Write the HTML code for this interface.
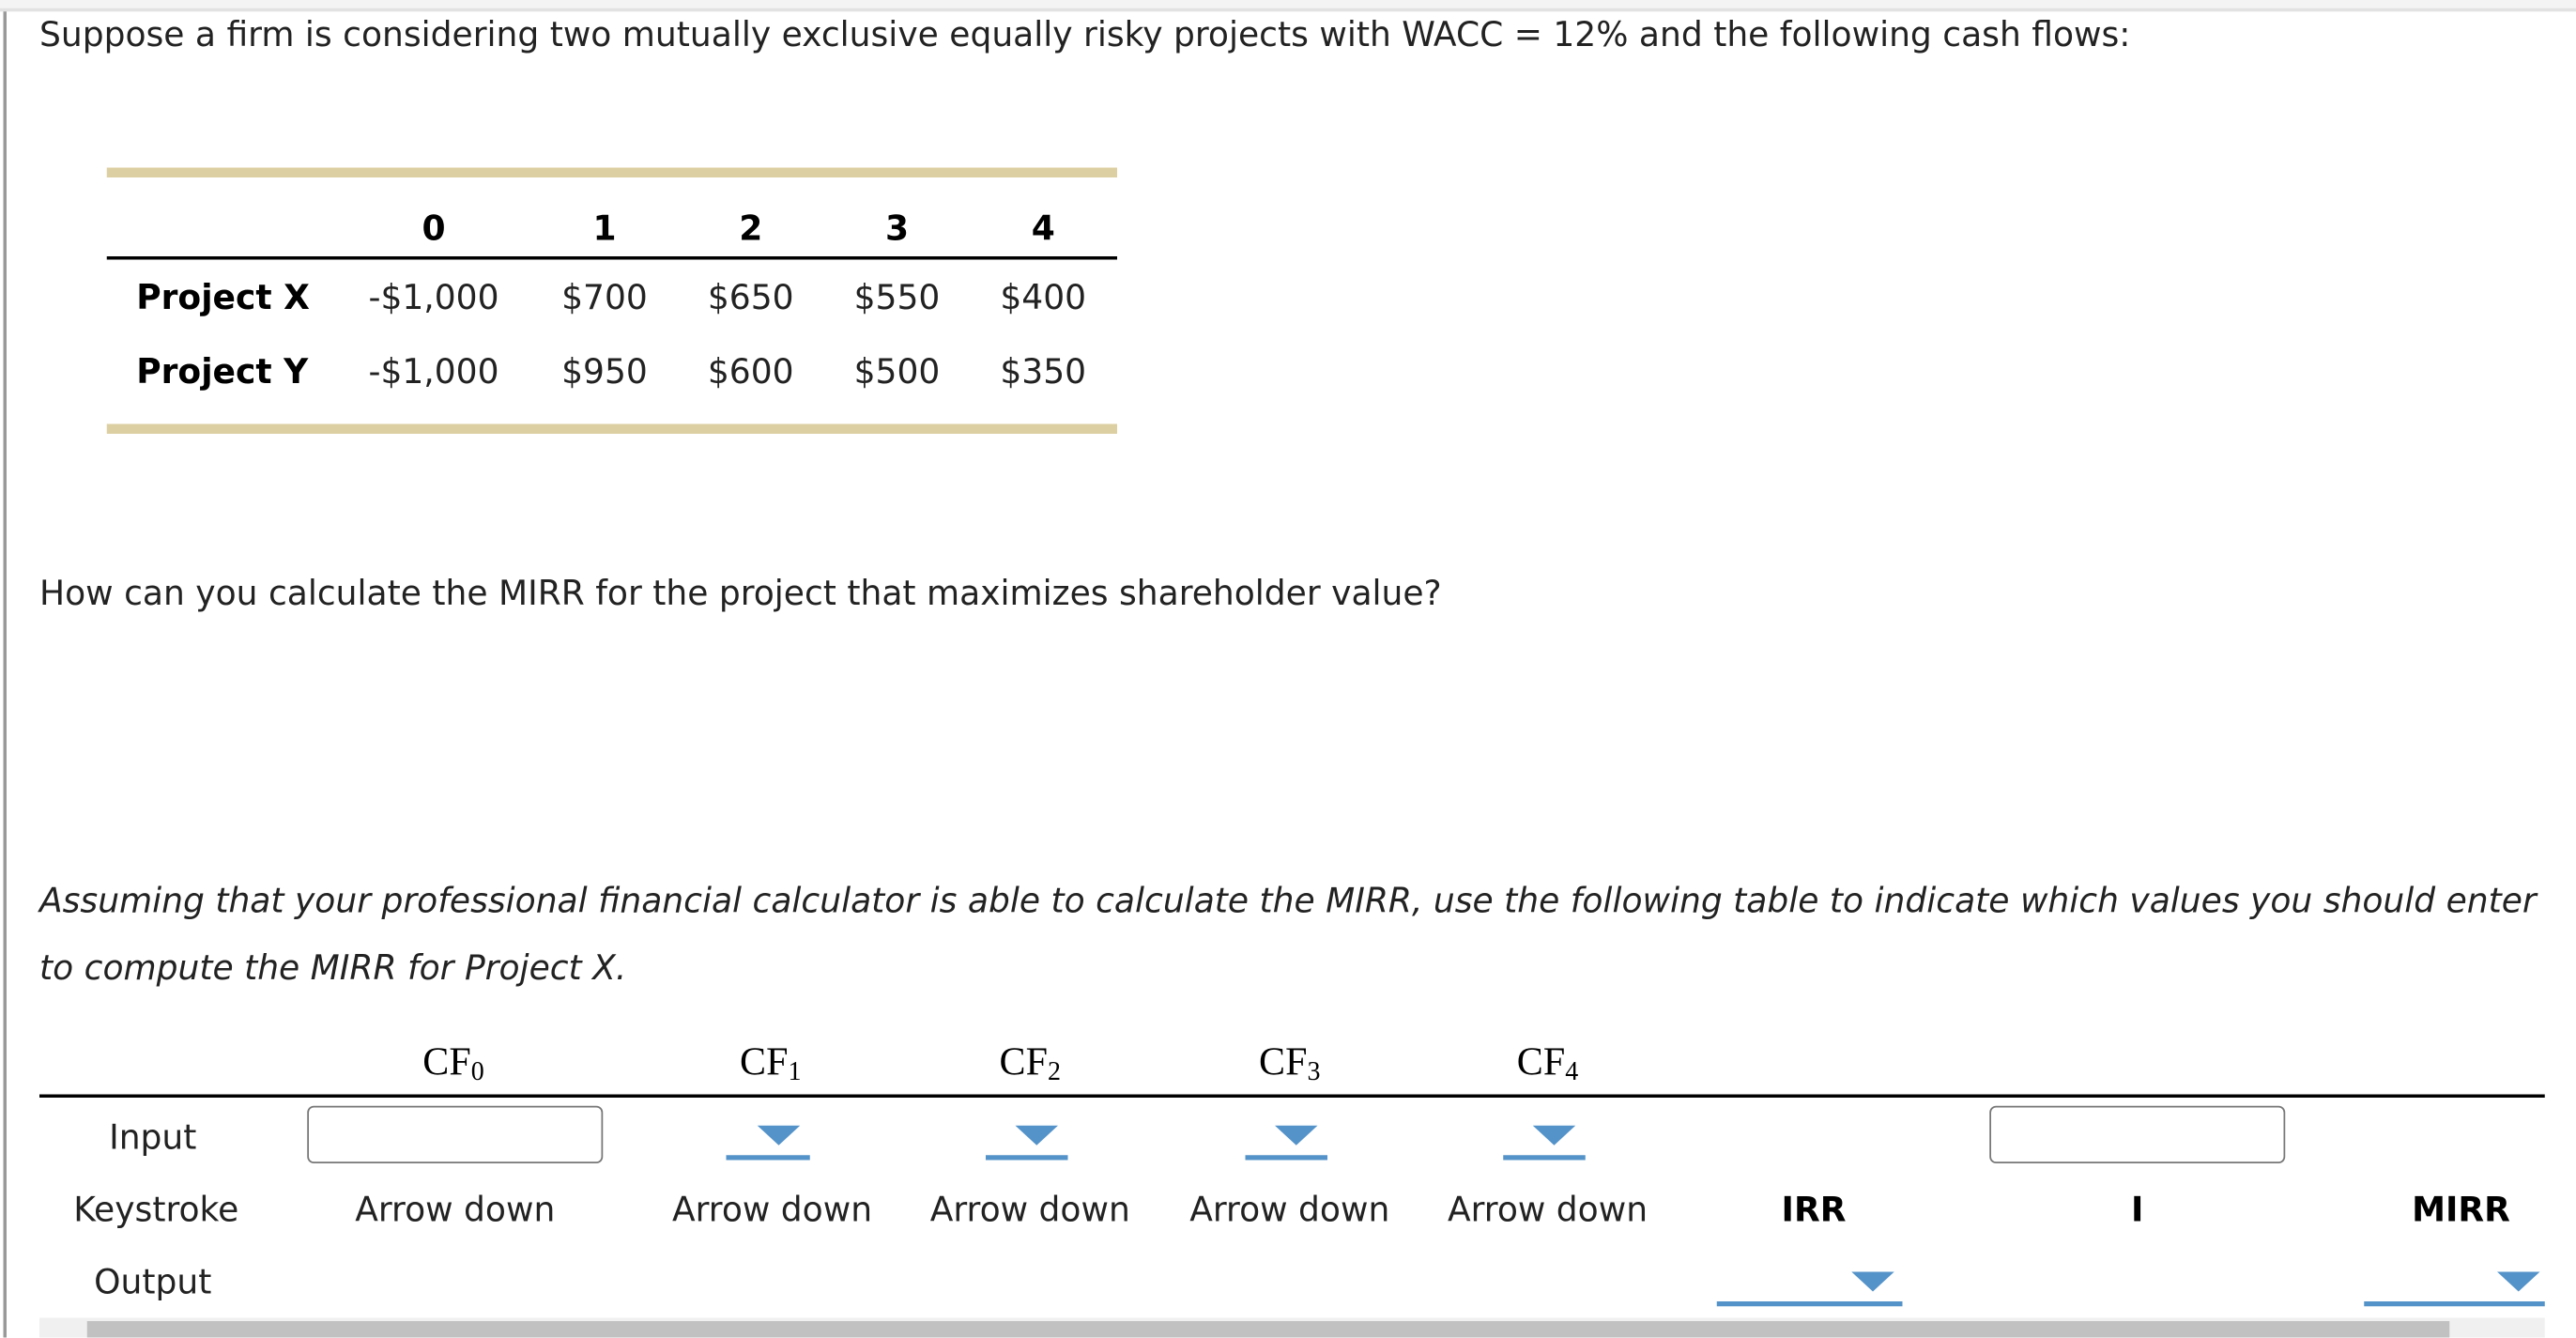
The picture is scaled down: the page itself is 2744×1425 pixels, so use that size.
<!DOCTYPE html>
<html><head><meta charset="utf-8">
<style>
html,body{margin:0;padding:0;background:#fff;overflow:hidden;}
body{width:2744px;height:1425px;position:relative;}
#s{position:absolute;left:0;top:0;width:1568px;height:814px;transform:scale(1.75);transform-origin:0 0;font-family:"DejaVu Sans","Liberation Sans",sans-serif;font-size:20.6px;color:#222;}
.a{position:absolute;white-space:nowrap;}
.c{transform:translate(-50%,-50%);}
.l{transform:translateY(-50%);}
.b{font-weight:bold;color:#000;}
.serif{font-family:"Liberation Serif",serif;font-size:24px;color:#000;}
.serif sub{font-size:16px;vertical-align:-3px;}
.tan{position:absolute;left:65px;width:615px;height:6px;background:#dccfa2;}
.box{position:absolute;width:178px;height:33px;border:1px solid #777;border-radius:4px;background:#fff;}
.tri{position:absolute;width:0;height:0;border-left:13px solid transparent;border-right:13px solid transparent;border-top:12px solid #5493c9;}
.ul{position:absolute;height:3px;background:#5493c9;}
</style></head><body>
<div id="s">
<div class="a" style="left:0;top:0;width:1568px;height:5px;background:#f4f4f4;border-bottom:2px solid #e2e2e2"></div>
<div class="a" style="left:2px;top:7px;width:2px;height:807px;background:#999"></div>
<div class="a l" style="left:24px;top:21px">Suppose a firm is considering two mutually exclusive equally risky projects with WACC = 12% and the following cash flows:</div>

<div>
<div class="tan" style="top:102px"></div>
<div class="tan" style="top:258px"></div>
<div class="a" style="left:65px;top:156px;width:615px;height:2px;background:#000"></div>
<div class="a c b" style="left:264px;top:139px">0</div>
<div class="a c b" style="left:368px;top:139px">1</div>
<div class="a c b" style="left:457px;top:139px">2</div>
<div class="a c b" style="left:546px;top:139px">3</div>
<div class="a c b" style="left:635px;top:139px">4</div>
<div class="a l b" style="left:83px;top:181px">Project X</div>
<div class="a c" style="left:264px;top:181px">-$1,000</div>
<div class="a c" style="left:368px;top:181px">$700</div>
<div class="a c" style="left:457px;top:181px">$650</div>
<div class="a c" style="left:546px;top:181px">$550</div>
<div class="a c" style="left:635px;top:181px">$400</div>
<div class="a l b" style="left:83px;top:226px">Project Y</div>
<div class="a c" style="left:264px;top:226px">-$1,000</div>
<div class="a c" style="left:368px;top:226px">$950</div>
<div class="a c" style="left:457px;top:226px">$600</div>
<div class="a c" style="left:546px;top:226px">$500</div>
<div class="a c" style="left:635px;top:226px">$350</div>
</div>

<div class="a l" style="left:24px;top:361px">How can you calculate the MIRR for the project that maximizes shareholder value?</div>
<div class="a l" style="left:24px;top:548px;font-style:italic">Assuming that your professional financial calculator is able to calculate the MIRR, use the following table to indicate which values you should enter</div>
<div class="a l" style="left:24px;top:589px;font-style:italic">to compute the MIRR for Project X.</div>

<div>
<div class="a c serif" style="left:276px;top:648px">CF<sub>0</sub></div>
<div class="a c serif" style="left:469px;top:648px">CF<sub>1</sub></div>
<div class="a c serif" style="left:627px;top:648px">CF<sub>2</sub></div>
<div class="a c serif" style="left:785px;top:648px">CF<sub>3</sub></div>
<div class="a c serif" style="left:942px;top:648px">CF<sub>4</sub></div>
<div class="a" style="left:24px;top:666px;width:1525px;height:2px;background:#000"></div>

<div class="a c" style="left:93px;top:692px">Input</div>
<div class="box" style="left:187px;top:673px"></div>
<div class="box" style="left:1211px;top:673px"></div>
<div><div class="tri" style="left:461px;top:685px"></div><div class="ul" style="left:442px;top:703px;width:51px"></div></div>
<div><div class="tri" style="left:618px;top:685px"></div><div class="ul" style="left:600px;top:703px;width:50px"></div></div>
<div><div class="tri" style="left:776px;top:685px"></div><div class="ul" style="left:758px;top:703px;width:50px"></div></div>
<div><div class="tri" style="left:933px;top:685px"></div><div class="ul" style="left:915px;top:703px;width:50px"></div></div>

<div class="a c" style="left:95px;top:736px">Keystroke</div>
<div class="a c" style="left:277px;top:736px">Arrow down</div>
<div class="a c" style="left:470px;top:736px">Arrow down</div>
<div class="a c" style="left:627px;top:736px">Arrow down</div>
<div class="a c" style="left:785px;top:736px">Arrow down</div>
<div class="a c" style="left:942px;top:736px">Arrow down</div>
<div class="a c b" style="left:1104px;top:736px">IRR</div>
<div class="a c b" style="left:1301px;top:736px">I</div>
<div class="a c b" style="left:1498px;top:736px">MIRR</div>

<div class="a c" style="left:93px;top:780px">Output</div>
<div><div class="tri" style="left:1127px;top:774px"></div><div class="ul" style="left:1045px;top:792px;width:113px"></div></div>
<div><div class="tri" style="left:1520px;top:774px"></div><div class="ul" style="left:1439px;top:792px;width:110px"></div></div>
</div>

<div class="a" style="left:24px;top:802px;width:1525px;height:12px;background:#f0f0f0">
<div class="a" style="left:29px;top:2px;width:1438px;height:10px;background:#c1c1c1"></div>
</div>
</div>
</body></html>
